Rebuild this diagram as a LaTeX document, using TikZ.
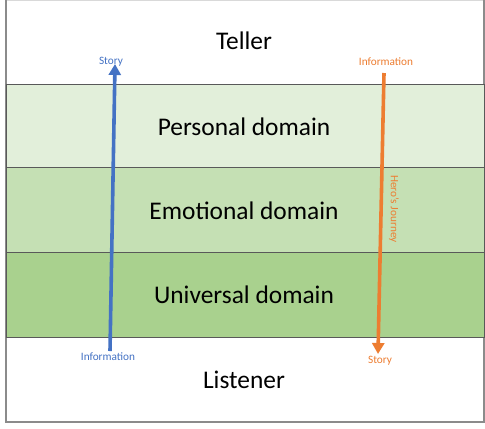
\documentclass[tikz,border=0pt]{standalone}
\usepackage{fontspec}
\setmainfont{Carlito}
\usetikzlibrary{arrows.meta}
\definecolor{bandA}{HTML}{E2EFDA}
\definecolor{bandB}{HTML}{C5E0B4}
\definecolor{bandC}{HTML}{A9D18E}
\definecolor{flowblue}{HTML}{4472C4}
\definecolor{floworange}{HTML}{ED7D31}
\definecolor{framegray}{HTML}{595959}
\tikzset{
  band/.style={draw=framegray, line width=0.9bp},
  bigtext/.style={font=\fontsize{25.5}{30}\selectfont, text=black, inner sep=0pt},
  smalltext/.style={font=\fontsize{11.3}{13}\selectfont, inner sep=0pt},
  flow/.style={line width=3.6bp, -{Triangle[width=12bp,length=11bp]}},
}
\begin{document}
\begin{tikzpicture}[x=1bp,y=-1bp]
\useasboundingbox (0,0) rectangle (485,428);
\fill[white] (0,0) rectangle (485,428);
% outer frame
\draw[black!15, line width=0.6bp] (6,0.5) -- (484,0.5);
\draw[framegray!70, line width=1.2bp] (6,0) -- (6,422) -- (484,422) -- (484,0);
% domain bands
\draw[band, fill=bandA] (6,84) rectangle (484,167);
\draw[band, fill=bandB] (6,167) rectangle (484,252);
\draw[band, fill=bandC] (6,252) rectangle (484,337);
% labels
\node[bigtext] (teller) at (244,41) {Teller};
\node[bigtext] (personal) at (244,127) {Personal domain};
\node[bigtext] (emotional) at (244,211) {Emotional domain};
\node[bigtext] (universal) at (244,295) {Universal domain};
\node[bigtext] (listener) at (244,380) {Listener};
% flow endpoints
\coordinate (blueS) at (110,351);
\coordinate (blueE) at (115,64);
\coordinate (orangeS) at (384,73);
\coordinate (orangeE) at (378,354);
\draw[flow, flowblue] (blueS) -- (blueE);
\draw[flow, floworange] (orangeS) -- (orangeE);
\node[smalltext, text=flowblue] (storyTop) at (111,62) {Story};
\node[smalltext, text=flowblue] (infoBottom) at (108,357) {Information};
\node[smalltext, text=floworange] (infoTop) at (386,62) {Information};
\node[smalltext, text=floworange] (storyBottom) at (380,361) {Story};
\node[smalltext, text=floworange, rotate=-90] (journey) at (394,209) {Hero’s Journey};
\end{tikzpicture}
\end{document}
